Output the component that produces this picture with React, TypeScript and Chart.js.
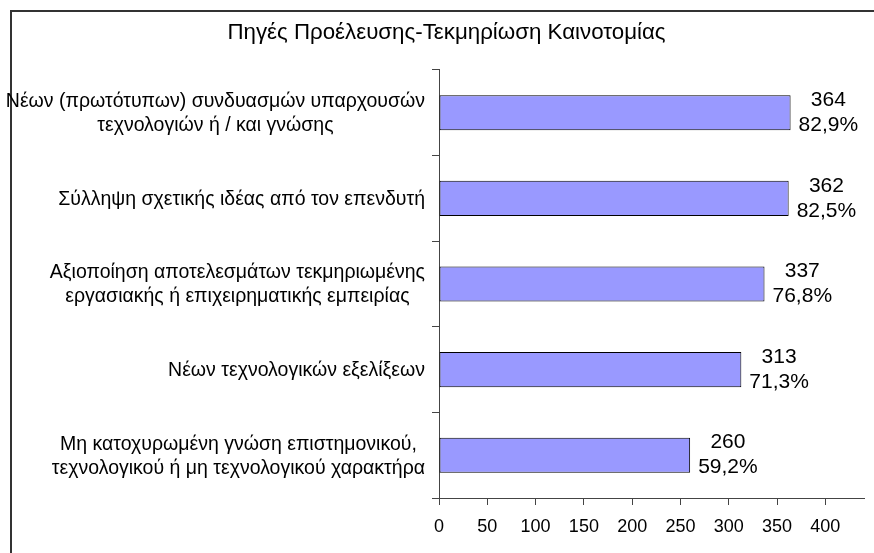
import React, { useEffect, useRef } from "react";
import { Chart, registerables } from "chart.js";

Chart.register(...registerables);

const categories: string[][] = [
  ["Νέων (πρωτότυπων) συνδυασμών υπαρχουσών", "τεχνολογιών ή / και γνώσης"],
  ["Σύλληψη σχετικής ιδέας από τον επενδυτή"],
  ["Αξιοποίηση αποτελεσμάτων τεκμηριωμένης", "εργασιακής ή επιχειρηματικής εμπειρίας"],
  ["Νέων τεχνολογικών εξελίξεων"],
  ["Μη κατοχυρωμένη γνώση επιστημονικού,", "τεχνολογικού ή μη τεχνολογικού χαρακτήρα"],
];
const counts: number[] = [364, 362, 337, 313, 260];
const percents: string[] = ["82,9%", "82,5%", "76,8%", "71,3%", "59,2%"];
const titleText = "Πηγές Προέλευσης-Τεκμηρίωση Καινοτομίας";

const FONT = "'Liberation Sans', Arial, sans-serif";

const framePlugin = {
  id: "frame",
  beforeDraw(chart: any) {
    const ctx = chart.ctx;
    ctx.save();
    ctx.fillStyle = "#fff";
    ctx.fillRect(0, 0, chart.width, chart.height);
    ctx.fillStyle = "#333";
    ctx.fillRect(10, 10, chart.width, 2);
    ctx.fillRect(10, 10, 2, chart.height);
    ctx.restore();
  },
};

const catLabelPlugin = {
  id: "catLabels",
  afterDraw(chart: any) {
    const ctx = chart.ctx;
    const yScale = chart.scales.y;
    const right = chart.chartArea.left - 14;
    const lh = 24;
    ctx.save();
    ctx.font = `19.5px ${FONT}`;
    ctx.fillStyle = "#000";
    ctx.textAlign = "center";
    ctx.textBaseline = "middle";
    categories.forEach((lines, i) => {
      const cy = yScale.getPixelForValue(i) + 1;
      const w = Math.max(...lines.map((l) => ctx.measureText(l).width));
      const cx = right - w / 2;
      const start = cy - ((lines.length - 1) * lh) / 2;
      lines.forEach((l, j) => ctx.fillText(l, cx, start + j * lh));
    });
    ctx.restore();
  },
};

const valueLabelPlugin = {
  id: "valueLabels",
  afterDatasetsDraw(chart: any) {
    const ctx = chart.ctx;
    const meta = chart.getDatasetMeta(0);
    const lh = 25;
    ctx.save();
    ctx.font = `21px ${FONT}`;
    ctx.fillStyle = "#000";
    ctx.textAlign = "center";
    ctx.textBaseline = "middle";
    meta.data.forEach((bar: any, i: number) => {
      const lines = [String(counts[i]), percents[i]];
      const w = Math.max(...lines.map((l) => ctx.measureText(l).width));
      const cx = bar.x + 8 + w / 2;
      ctx.fillText(lines[0], cx, bar.y - lh / 2);
      ctx.fillText(lines[1], cx, bar.y + lh / 2);
    });
    ctx.restore();
  },
};

export default function App() {
  const ref = useRef<HTMLCanvasElement>(null);
  useEffect(() => {
    document.body.style.margin = "0";
    document.body.style.overflow = "hidden";
    if (!ref.current) return;
    const chart = new Chart(ref.current, {
      type: "bar",
      data: {
        labels: categories.map((c) => c.join(" ")),
        datasets: [
          {
            data: counts,
            backgroundColor: "#9999FF",
            borderColor: "#000",
            borderWidth: 1,
            borderSkipped: false,
            categoryPercentage: 1,
            barPercentage: 0.41,
          },
        ],
      },
      options: {
        indexAxis: "y",
        animation: false,
        responsive: false,
        layout: { padding: { left: 29, right: 10, top: 0, bottom: 0 } },
        plugins: {
          legend: { display: false },
          tooltip: { enabled: false },
          title: {
            display: true,
            text: titleText,
            color: "#000",
            font: { family: FONT, size: 22.3, weight: "normal", lineHeight: 1.2 },
            padding: { top: 19, bottom: 24.2 },
          },
        },
        scales: {
          y: {
            ticks: { display: false },
            grid: { drawOnChartArea: false, tickLength: 7, color: "#444" },
            border: { display: true, color: "#444", width: 1 },
            afterFit: (s: any) => {
              s.width = 410;
            },
          },
          x: {
            min: 0,
            max: 440,
            ticks: {
              stepSize: 50,
              includeBounds: false,
              color: "#000",
              font: { family: FONT, size: 18 },
              padding: 11,
            },
            grid: { drawOnChartArea: false, tickLength: 7, color: "#444" },
            border: { display: true, color: "#444", width: 1 },
            afterFit: (s: any) => {
              s.height = 55;
            },
          },
        },
      },
      plugins: [framePlugin, catLabelPlugin, valueLabelPlugin],
    } as any);
    return () => chart.destroy();
  }, []);
  return <canvas ref={ref} width={874} height={553} style={{ display: "block" }} />;
}
